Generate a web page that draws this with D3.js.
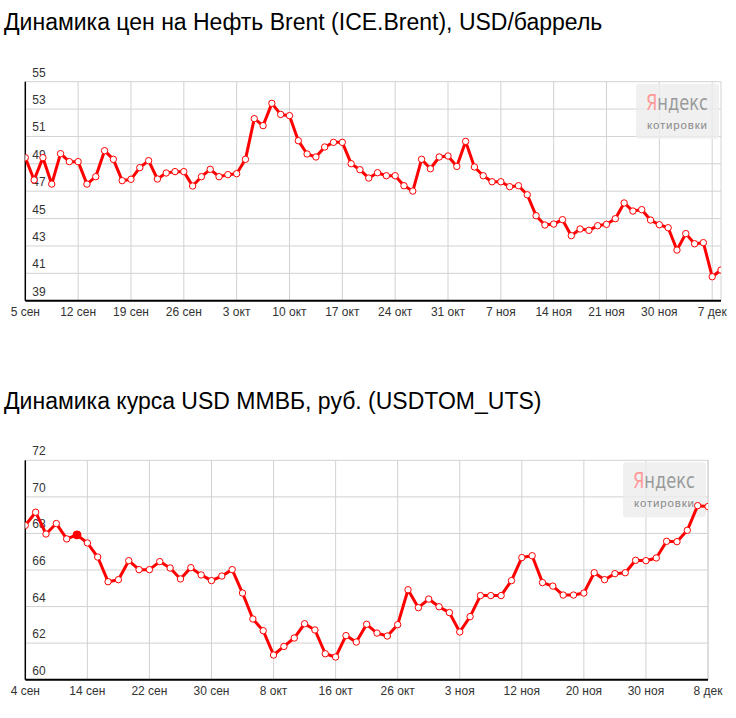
<!DOCTYPE html>
<html lang="ru">

<head>
    <meta charset="UTF-8">
    <title>Динамика цен: Brent и USD ММВБ</title>
    <script src="https://d3js.org/d3.v7.min.js"></script>
    <style>
        html,
        body {
            margin: 0;
            padding: 0;
            background: #fff;
            font-family: Arial, "Liberation Sans", sans-serif;
        }

        svg {
            display: block;
        }
    </style>
</head>

<body>
    <svg width="736" height="718"></svg>
    <script>
        // --- Данные: нефть Brent, USD/баррель ---
        const brentTitle = "Динамика цен на Нефть Brent (ICE.Brent), USD/баррель";
        const brentTicks = [39, 41, 43, 45, 47, 49, 51, 53, 55];
        const brentDates = ["5 сен", "12 сен", "19 сен", "26 сен", "3 окт", "10 окт", "17 окт",
            "24 окт", "31 окт", "7 ноя", "14 ноя", "21 ноя", "30 ноя", "7 дек"];
        const brentValues = [
            49.45, 47.82, 49.45, 47.52, 49.74, 49.16, 49.16, 47.52, 48.06, 49.96,
            49.33, 47.77, 47.87, 48.72, 49.23, 47.89, 48.33, 48.43, 48.43, 47.38,
            48.06, 48.60, 48.06, 48.21, 48.28, 49.33, 52.30, 51.79, 53.42, 52.61,
            52.52, 50.69, 49.72, 49.50, 50.23, 50.57, 50.57, 49.01, 48.57, 47.96,
            48.35, 48.13, 48.13, 47.40, 47.01, 49.33, 48.64, 49.50, 49.57, 48.81,
            50.64, 48.77, 48.13, 47.69, 47.69, 47.33, 47.40, 46.74, 45.21, 44.53,
            44.60, 44.92, 43.75, 44.24, 44.14, 44.48, 44.58, 44.99, 46.14, 45.55,
            45.65, 44.89, 44.55, 44.33, 42.70, 43.90, 43.16, 43.24, 40.75, 41.24
        ];

        // --- Данные: курс USD ММВБ, руб. ---
        const usdTitle = "Динамика курса USD ММВБ, руб. (USDTOM_UTS)";
        const usdTicks = [60, 62, 64, 66, 68, 70, 72];
        const usdDates = ["4 сен", "14 сен", "22 сен", "30 сен", "8 окт", "16 окт", "26 окт",
            "3 ноя", "12 ноя", "20 ноя", "30 ноя", "8 дек"];
        const usdValues = [
            68.44, 69.16, 67.97, 68.54, 67.70, 67.92, 67.48, 66.71, 65.36, 65.47,
            66.51, 66.02, 66.02, 66.46, 66.11, 65.51, 66.13, 65.73, 65.42, 65.67,
            66.02, 64.74, 63.32, 62.68, 61.35, 61.82, 62.28, 63.06, 62.72, 61.42,
            61.24, 62.41, 62.06, 63.03, 62.55, 62.39, 63.01, 64.92, 63.94, 64.41,
            63.99, 63.67, 62.61, 63.45, 64.60, 64.60, 64.60, 65.42, 66.68, 66.78,
            65.31, 65.12, 64.63, 64.63, 64.74, 65.85, 65.47, 65.80, 65.85, 66.53,
            66.51, 66.66, 67.57, 67.55, 68.17, 69.52, 69.47
        ];
        const usdHighlight = 5; // точка под курсором

        const svg = d3.select("svg");
        const pointsPerTick = 6;

        // Рисует один график: заголовок, сетка, оси, линия, точки, логотип
        function drawChart(opts) {
            const { id, title, titleY, values, dates, ticks, box, lastIndex, highlight } = opts;
            const g = svg.append("g").attr("id", id);

            g.append("text")
                .attr("x", 4)
                .attr("y", titleY)
                .attr("font-size", 23)
                .attr("fill", "#000")
                .text(title);

            const x = d3.scaleLinear()
                .domain([0, lastIndex])
                .range([box.left, box.right]);
            const y = d3.scaleLinear()
                .domain([d3.min(ticks), d3.max(ticks)])
                .range([box.bottom, box.top]);

            const tickIdx = dates.map((d, i) => i * pointsPerTick);

            // сетка
            g.append("g").selectAll("line")
                .data(ticks)
                .join("line")
                .attr("x1", box.left).attr("x2", box.right)
                .attr("y1", d => y(d)).attr("y2", d => y(d))
                .attr("stroke", "#d2d2d2").attr("stroke-width", 1);
            g.append("g").selectAll("line")
                .data(tickIdx.slice(1).concat([lastIndex]))
                .join("line")
                .attr("x1", d => x(d)).attr("x2", d => x(d))
                .attr("y1", box.top).attr("y2", box.bottom)
                .attr("stroke", "#d2d2d2").attr("stroke-width", 1);

            // подписи оси Y (внутри области, над линией сетки)
            g.append("g").selectAll("text")
                .data(ticks)
                .join("text")
                .attr("x", box.left + 7)
                .attr("y", d => y(d) - 5)
                .attr("font-size", 12)
                .attr("fill", "#333")
                .text(d => d);

            // подписи оси X
            g.append("g").selectAll("text")
                .data(dates)
                .join("text")
                .attr("x", (d, i) => x(tickIdx[i]))
                .attr("y", box.bottom + 15.5)
                .attr("text-anchor", "middle")
                .attr("font-size", 12)
                .attr("fill", "#333")
                .text(d => d);

            // логотип: "Я" красным, остальное серым — одним текстом через градиент
            const lx = box.right - 85, ly = box.top + 2;
            const logo = g.append("g").attr("transform", `translate(${lx},${ly})`);
            logo.append("rect")
                .attr("width", 83).attr("height", 55).attr("rx", 3)
                .attr("fill", "#ececec").attr("fill-opacity", 0.8);
            const grad = logo.append("linearGradient")
                .attr("id", id + "-logo")
                .attr("gradientUnits", "userSpaceOnUse")
                .attr("x1", 10).attr("x2", 72).attr("y1", 0).attr("y2", 0);
            grad.append("stop").attr("offset", 0.18).attr("stop-color", "#f99");
            grad.append("stop").attr("offset", 0.18).attr("stop-color", "#999");
            logo.append("text")
                .attr("x", 10).attr("y", 26)
                .attr("font-family", "'Liberation Sans Narrow', 'DejaVu Sans Condensed', sans-serif")
                .attr("font-size", 22)
                .attr("fill", `url(#${id}-logo)`)
                .attr("textLength", 62)
                .attr("lengthAdjust", "spacingAndGlyphs")
                .text("Яндекс");
            logo.append("text")
                .attr("x", 11).attr("y", 45)
                .attr("font-size", 11.5)
                .attr("fill", "#8a8a8a")
                .attr("textLength", 60)
                .attr("lengthAdjust", "spacing")
                .text("котировки");

            // оси
            g.append("line")
                .attr("x1", box.left).attr("x2", box.left)
                .attr("y1", box.top).attr("y2", box.bottom)
                .attr("stroke", "#000").attr("stroke-width", 1.5);
            g.append("line")
                .attr("x1", box.left).attr("x2", box.right)
                .attr("y1", box.bottom).attr("y2", box.bottom)
                .attr("stroke", "#000").attr("stroke-width", 2);

            // линия и точки
            g.append("clipPath").attr("id", id + "-clip")
                .append("rect")
                .attr("x", box.left).attr("y", box.top - 6)
                .attr("width", box.right - box.left).attr("height", box.bottom - box.top + 6);
            const plot = g.append("g").attr("clip-path", `url(#${id}-clip)`);

            const line = d3.line()
                .x((d, i) => x(i))
                .y(d => y(d));
            plot.append("path")
                .datum(values)
                .attr("d", line)
                .attr("fill", "none")
                .attr("stroke", "#f00")
                .attr("stroke-width", 3)
                .attr("stroke-linejoin", "round");

            plot.selectAll("circle")
                .data(values)
                .join("circle")
                .attr("cx", (d, i) => x(i))
                .attr("cy", d => y(d))
                .attr("r", (d, i) => i === highlight ? 4 : 3.2)
                .attr("fill", (d, i) => i === highlight ? "#f00" : "#fff")
                .attr("stroke", "#f00")
                .attr("stroke-width", 1);
        }

        drawChart({
            id: "brent",
            title: brentTitle,
            titleY: 29.5,
            values: brentValues,
            dates: brentDates,
            ticks: brentTicks,
            box: { left: 25.3, right: 721, top: 81.7, bottom: 300.7 },
            lastIndex: brentValues.length - 1,
            highlight: -1
        });

        drawChart({
            id: "usd",
            title: usdTitle,
            titleY: 408.5,
            values: usdValues,
            dates: usdDates,
            ticks: usdTicks,
            box: { left: 25.3, right: 708, top: 460.3, bottom: 679.7 },
            lastIndex: usdValues.length - 1,
            highlight: usdHighlight
        });
    </script>
</body>

</html>
